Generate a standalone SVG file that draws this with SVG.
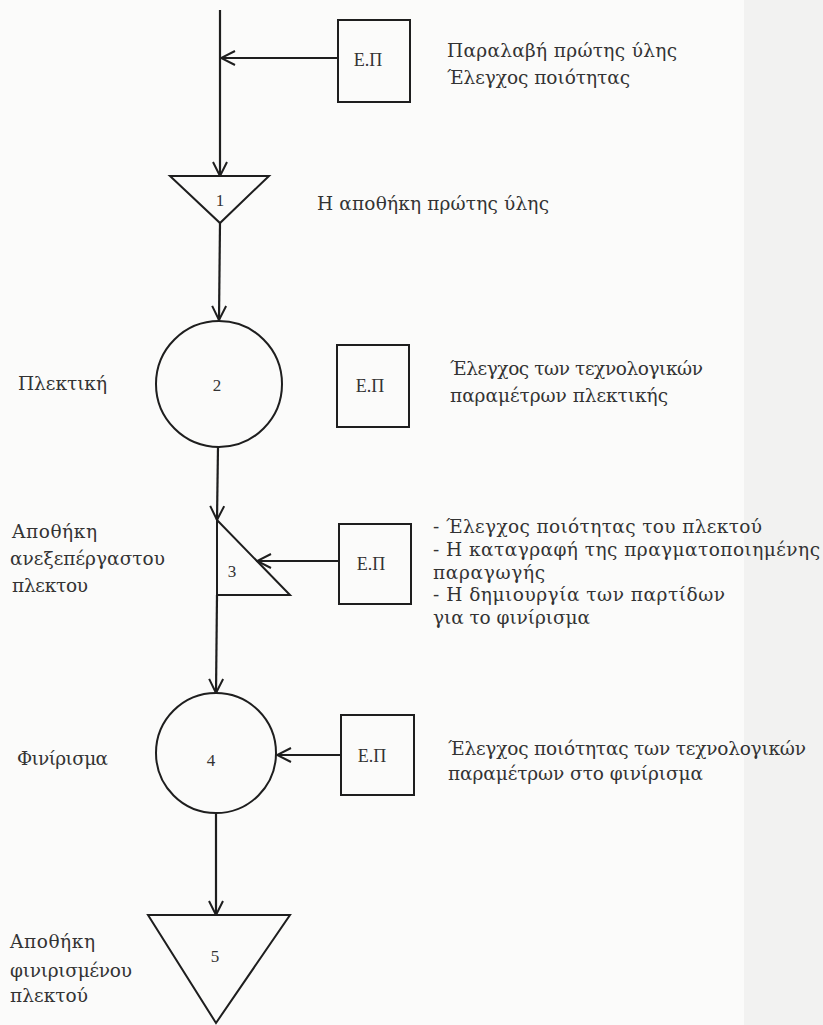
<svg xmlns="http://www.w3.org/2000/svg" width="823" height="1025" viewBox="0 0 823 1025">
<style>
.bg{fill:#fbfbfa}
.band{fill:#f2f2f1}
.shape{fill:none;stroke:#1e1e1e;stroke-width:2}
.conn{fill:none;stroke:#1e1e1e;stroke-width:2.2}
.t{font-family:"DejaVu Serif","Liberation Serif",serif;font-size:18.5px;fill:#333}
.n{font-family:"Liberation Serif",serif;font-size:17px;fill:#333;text-anchor:middle}
.ep{font-family:"Liberation Serif",serif;font-size:18px;fill:#333;text-anchor:middle}
</style>
<defs>
<marker id="arr" viewBox="0 0 16 16" refX="15" refY="8" markerWidth="16" markerHeight="16" markerUnits="userSpaceOnUse" orient="auto">
<path d="M1,1 L15,8 L1,15" fill="none" stroke="#1e1e1e" stroke-width="2"/>
</marker>
</defs>
<rect class="bg" x="0" y="0" width="823" height="1025"/>
<rect class="band" x="744" y="0" width="79" height="1025"/>

<g id="connectors">
<path class="conn" d="M220,10 L220,176" marker-end="url(#arr)"/>
<path class="conn" d="M338,58 L221,58" marker-end="url(#arr)"/>
<path class="conn" d="M220,223 L219,320" marker-end="url(#arr)"/>
<path class="conn" d="M218,447 L217,520" marker-end="url(#arr)"/>
<path class="conn" d="M339,561 L257,561" marker-end="url(#arr)"/>
<path class="conn" d="M217,595 L216,693" marker-end="url(#arr)"/>
<path class="conn" d="M341,755 L277,755" marker-end="url(#arr)"/>
<path class="conn" d="M216,813 L216,915" marker-end="url(#arr)"/>
</g>

<g id="box1">
<rect class="shape" x="338" y="20" width="72" height="82"/>
<text class="ep" x="368" y="66">Ε.Π</text>
</g>
<g id="label1">
<text class="t" x="447" y="57" textLength="230">Παραλαβή πρώτης ύλης</text>
<text class="t" x="447" y="84" textLength="183">Έλεγχος ποιότητας</text>
</g>

<g id="node1">
<polygon class="shape" points="170,176 269,176 220,223"/>
<text class="n" x="220" y="206">1</text>
</g>
<text class="t" x="317" y="210" textLength="232">Η αποθήκη πρώτης ύλης</text>

<g id="node2">
<circle class="shape" cx="219" cy="384" r="63"/>
<text class="n" x="217" y="391">2</text>
</g>
<text class="t" x="18" y="390" textLength="89">Πλεκτική</text>
<g id="box2">
<rect class="shape" x="337" y="345" width="72" height="82"/>
<text class="ep" x="370" y="392">Ε.Π</text>
</g>
<g id="label2">
<text class="t" x="450" y="375" textLength="253">Έλεγχος των τεχνολογικών</text>
<text class="t" x="450" y="402" textLength="218">παραμέτρων πλεκτικής</text>
</g>

<g id="node3">
<polygon class="shape" points="217,520 217,595 290,595"/>
<text class="n" x="232" y="577">3</text>
</g>
<g id="label3left">
<text class="t" x="12" y="538" textLength="85">Αποθήκη</text>
<text class="t" x="10" y="565" textLength="155">ανεξεπέργαστου</text>
<text class="t" x="12" y="592" textLength="76">πλεκτου</text>
</g>
<g id="box3">
<rect class="shape" x="339" y="524" width="72" height="80"/>
<text class="ep" x="371" y="570">Ε.Π</text>
</g>
<g id="label3right">
<text class="t" x="433" y="533" textLength="329">- Έλεγχος ποιότητας του πλεκτού</text>
<text class="t" x="433" y="556" textLength="387">- Η καταγραφή της πραγματοποιημένης</text>
<text class="t" x="433" y="579" textLength="112">παραγωγής</text>
<text class="t" x="433" y="601" textLength="292">- Η δημιουργία των παρτίδων</text>
<text class="t" x="433" y="624" textLength="157">για το φινίρισμα</text>
</g>

<g id="node4">
<circle class="shape" cx="216" cy="753" r="60"/>
<text class="n" x="211" y="766">4</text>
</g>
<text class="t" x="17" y="765" textLength="91">Φινίρισμα</text>
<g id="box4">
<rect class="shape" x="341" y="715" width="73" height="80"/>
<text class="ep" x="372" y="762">Ε.Π</text>
</g>
<g id="label4">
<text class="t" x="448" y="755" textLength="358">Έλεγχος ποιότητας των τεχνολογικών</text>
<text class="t" x="448" y="780" textLength="255">παραμέτρων στο φινίρισμα</text>
</g>

<g id="node5">
<polygon class="shape" points="148,915 290,915 216,1023"/>
<text class="n" x="215" y="962">5</text>
</g>
<g id="label5">
<text class="t" x="10" y="948" textLength="85">Αποθήκη</text>
<text class="t" x="10" y="977" textLength="122">φινιρισμένου</text>
<text class="t" x="10" y="1002" textLength="78">πλεκτού</text>
</g>
</svg>
